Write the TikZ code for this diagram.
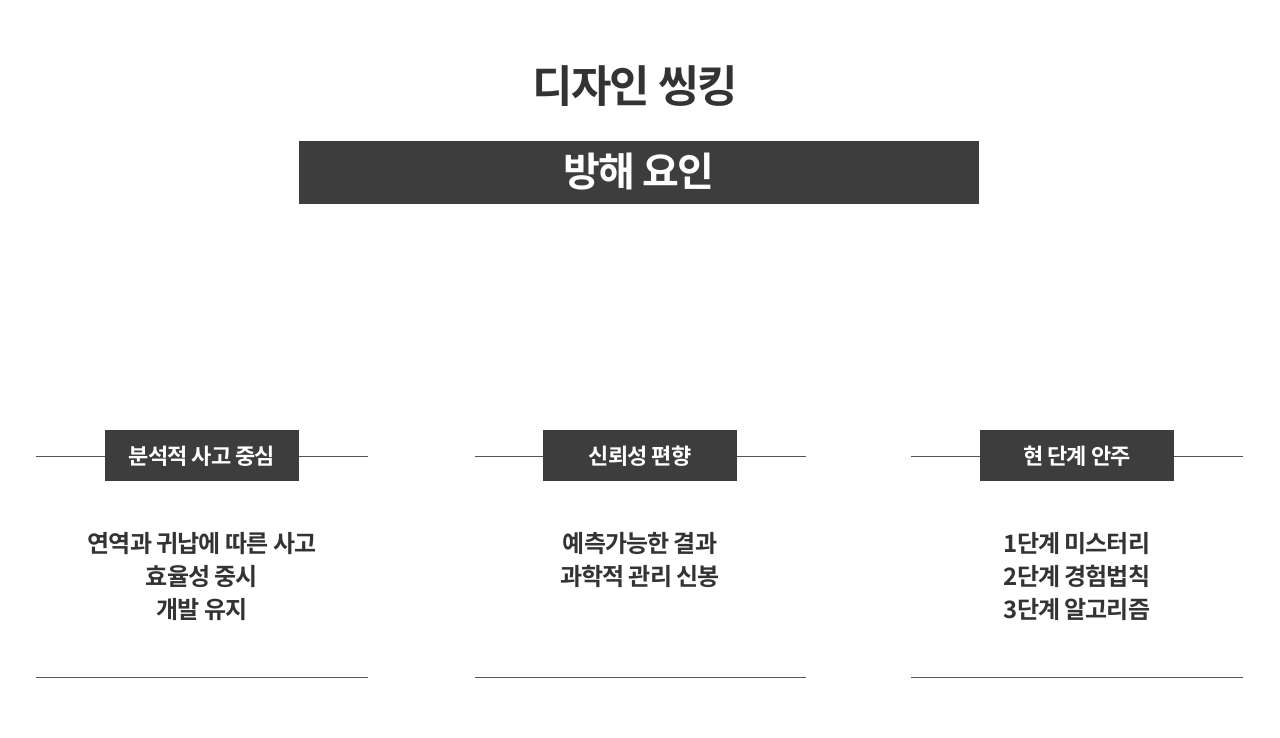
\documentclass[tikz,border=0pt]{standalone}
\usepackage{fontspec}
\setmainfont{Noto Sans CJK KR}[BoldFont={Noto Sans CJK KR Bold},LetterSpace=-4]
\definecolor{dk}{HTML}{3D3D3D}
\definecolor{tx}{HTML}{333333}
\definecolor{ln}{HTML}{555555}
\begin{document}
\begin{tikzpicture}[x=1pt,y=-1pt,
  band/.style={fill=dk,draw=none},
  lbl/.style={text=white,font=\bfseries\fontsize{22}{24}\selectfont,inner sep=0},
  body/.style={text=tx,font=\bfseries\fontsize{24}{33}\selectfont,align=center,inner sep=0},
  rule/.style={draw=ln,line width=0.8pt}]
\useasboundingbox (0,0) rectangle (1280,737);
\node[text=tx,font=\bfseries\fontsize{44}{48}\selectfont,inner sep=0] (title) at (635,86) {디자인 씽킹};
\fill[band] (299,141) rectangle (979,204);
\node[text=white,font=\bfseries\fontsize{40}{44}\selectfont,inner sep=0] (sub) at (639,172) {방해 요인};
\foreach \cx/\a/\b/\t/\bd [count=\i] in {
  202/36/368/분석적 사고 중심/{연역과 귀납에 따른 사고\\효율성 중시\\개발 유지},
  640/475/806/신뢰성 편향/{예측가능한 결과\\과학적 관리 신봉\\ },
  1077/911/1243/현 단계 안주/{1단계 미스터리\\2단계 경험법칙\\3단계 알고리즘}}{
  \coordinate (l\i) at (\a,456); \coordinate (r\i) at (\b,456);
  \draw[rule] (l\i) -- (r\i);
  \fill[band] (\cx-97,430) rectangle (\cx+97,481);
  \node[lbl] (h\i) at (\cx,456) {\t};
  \node[body,anchor=north] (b\i) at (\cx,532) {\bd};
  \coordinate (bl\i) at (\a,677); \coordinate (br\i) at (\b,677);
  \draw[rule] (bl\i) -- (br\i);
}
\end{tikzpicture}
\end{document}
